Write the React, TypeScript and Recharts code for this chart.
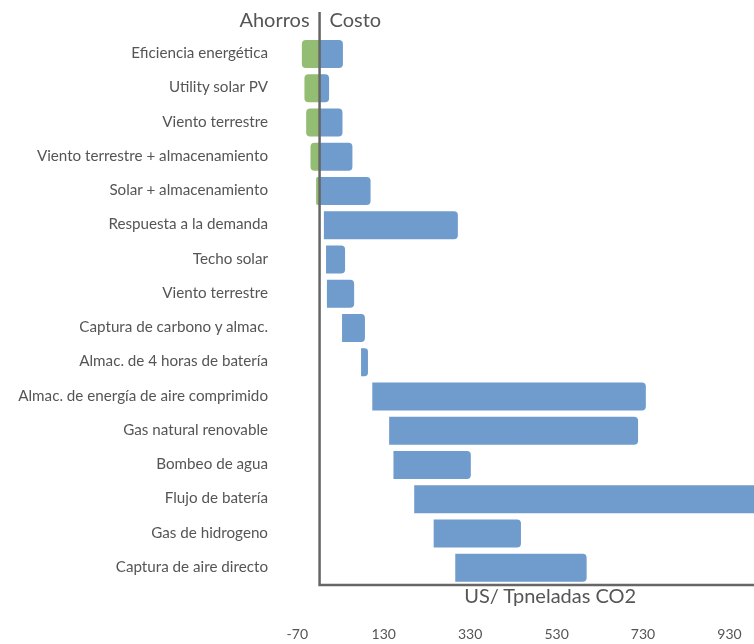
import { Bar, BarChart, ReferenceLine, XAxis, YAxis } from "recharts";

const categories = [
  "Eficiencia energética",
  "Utility solar PV",
  "Viento terrestre",
  "Viento terrestre + almacenamiento",
  "Solar + almacenamiento",
  "Respuesta a la demanda",
  "Techo solar",
  "Viento terrestre",
  "Captura de carbono y almac.",
  "Almac. de 4 horas de batería",
  "Almac. de energía de aire comprimido",
  "Gas natural renovable",
  "Bombeo de agua",
  "Flujo de batería",
  "Gas de hidrogeno",
  "Captura de aire directo",
];

// green part (savings), goes from this value up to 0
const savings = [-41, -35, -31, -21, -8, null, null, null, null, null, null, null, null, null, null, null];
// blue part (cost), start and end
const costStart = [0, 0, 0, 0, 0, 10, 15, 17, 52, 96, 122, 161, 171, 219, 264, 314];
const costEnd = [54, 22, 53, 76, 118, 320, 59, 80, 105, 112, 755, 737, 350, 1030, 466, 618];

const xTicks = [-70, 130, 330, 530, 730, 930];

const FONT = "Lato, 'Open Sans', sans-serif";
const TEXT = "#555555";
const BLUE = "#6f9bcd";
const GREEN = "#93bd72";
const AXIS = "#666666";

const data = categories.map((name, i) => ({
  key: `${i}`,
  name,
  saving: savings[i] == null ? null : [savings[i], 0],
  cost: [costStart[i], costEnd[i]],
}));

const CategoryTick = ({ x, y, payload }: any) => (
  <text
    x={x - 17}
    y={y}
    dy={4}
    textAnchor="end"
    fill={TEXT}
    fontSize={15.2}
    fontFamily={FONT}
  >
    {categories[Number(payload.value)]}
  </text>
);

const ValueTick = ({ x, y, payload }: any) => (
  <text
    x={x + 8}
    y={y + 54}
    textAnchor="middle"
    fill={TEXT}
    fontSize={14}
    fontFamily={FONT}
  >
    {payload.value}
  </text>
);

// vertical zero line + bottom axis line + the "Ahorros | Costo" header
const CornerAxes = (props: any) => {
  const x = props.x1;
  const top = Math.min(props.y1, props.y2);
  const bottom = Math.max(props.y1, props.y2);
  return (
    <g>
      <path
        d={`M${x},${top} V${bottom} H${x + 480}`}
        stroke={AXIS}
        strokeWidth={2.5}
        fill="none"
      />
      <text x={x - 10} y={top + 15} textAnchor="end" fill={TEXT} fontSize={20} fontFamily={FONT}>
        Ahorros
      </text>
      <text x={x + 10} y={top + 15} textAnchor="start" fill={TEXT} fontSize={20} fontFamily={FONT}>
        Costo
      </text>
    </g>
  );
};

export default function App() {
  return (
    <div style={{ position: "fixed", top: 8, left: 8, width: 746, height: 636, overflow: "hidden" }}>
      <BarChart
        width={780}
        height={636}
        data={data}
        layout="vertical"
        margin={{ top: 4, right: 19, left: 0, bottom: 0 }}
        barSize={28}
      >
        <XAxis
          type="number"
          domain={[-80, 1040]}
          ticks={xTicks}
          axisLine={false}
          tickLine={false}
          tickSize={0}
          tickMargin={0}
          height={59}
          tick={<ValueTick />}
          interval={0}
          label={{
            content: ({ viewBox }: any) => (
              <text
                x={viewBox.x + viewBox.width * 0.548}
                y={viewBox.y + 18}
                textAnchor="middle"
                fill={TEXT}
                fontSize={20}
                fontFamily={FONT}
              >
                US/ Tpneladas CO2
              </text>
            ),
          }}
        />
        <YAxis
          type="category"
          dataKey="key"
          width={277}
          axisLine={false}
          tickLine={false}
          tickSize={0}
          tickMargin={0}
          padding={{ top: 25, bottom: 0 }}
          tick={<CategoryTick />}
          interval={0}
        />
        <YAxis
          yAxisId="g"
          type="category"
          dataKey="key"
          hide
          padding={{ top: 25, bottom: 0 }}
        />
        <Bar
          yAxisId="g"
          dataKey="saving"
          fill={GREEN}
          radius={[4, 0, 0, 4]}
          isAnimationActive={false}
        />
        <Bar
          dataKey="cost"
          fill={BLUE}
          radius={[0, 4, 4, 0]}
          isAnimationActive={false}
        />
        <ReferenceLine x={0} shape={<CornerAxes />} />
      </BarChart>
    </div>
  );
}
